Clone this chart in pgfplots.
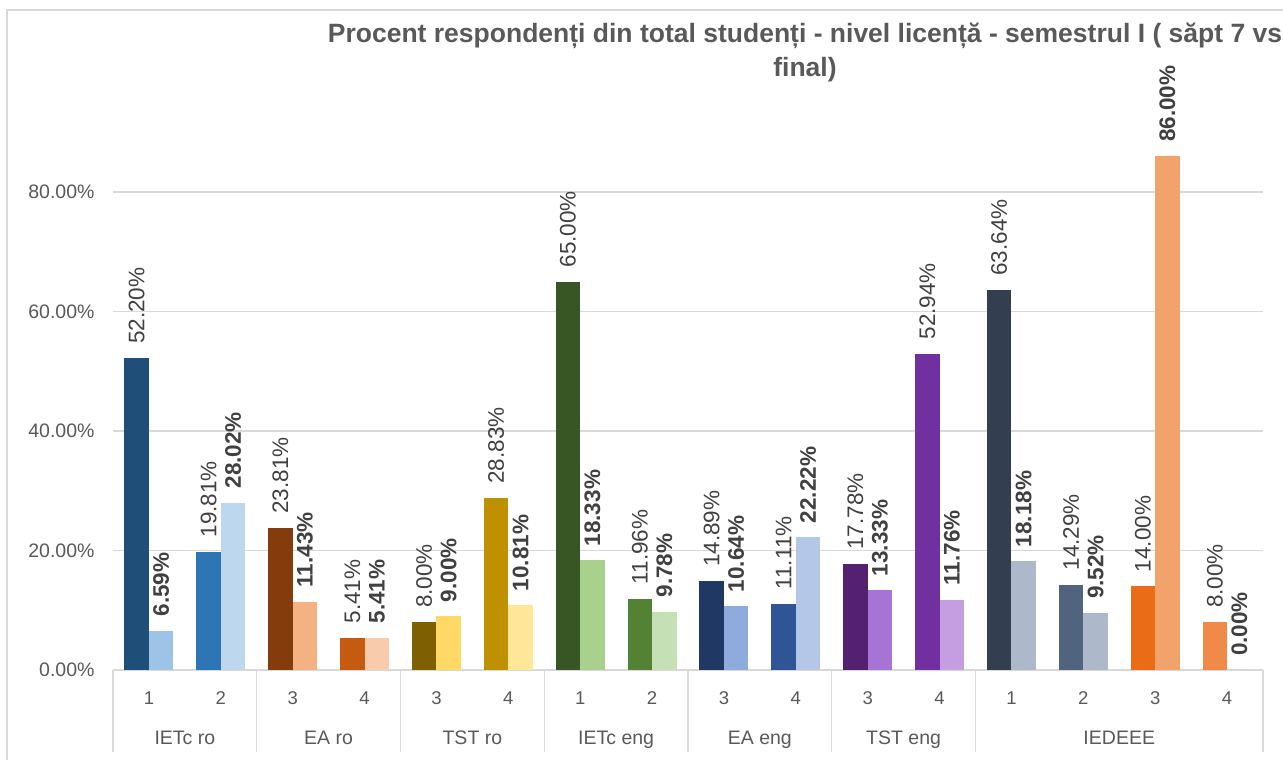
\documentclass[border=0pt]{standalone}
\usepackage{fontspec}
\setmainfont{Liberation Sans}
\newfontfamily\lab{Liberation Sans}
\usepackage{pgfplots}
\pgfplotsset{compat=1.18}

\definecolor{gridc}{HTML}{D9D9D9}
\definecolor{tickc}{HTML}{595959}
\definecolor{labc}{HTML}{404040}
\definecolor{c1a}{HTML}{1F4E79}\definecolor{c1b}{HTML}{9DC3E6}
\definecolor{c2a}{HTML}{2E75B6}\definecolor{c2b}{HTML}{BDD7EE}
\definecolor{c3a}{HTML}{843C0C}\definecolor{c3b}{HTML}{F4B183}
\definecolor{c4a}{HTML}{C55A11}\definecolor{c4b}{HTML}{F8CBAD}
\definecolor{c5a}{HTML}{7F6000}\definecolor{c5b}{HTML}{FFD966}
\definecolor{c6a}{HTML}{BF9000}\definecolor{c6b}{HTML}{FFE699}
\definecolor{c7a}{HTML}{375623}\definecolor{c7b}{HTML}{A9D18E}
\definecolor{c8a}{HTML}{548235}\definecolor{c8b}{HTML}{C5E0B4}
\definecolor{c9a}{HTML}{1F3864}\definecolor{c9b}{HTML}{8FAADC}
\definecolor{c10a}{HTML}{2F5597}\definecolor{c10b}{HTML}{B4C7E7}
\definecolor{c11a}{HTML}{532170}\definecolor{c11b}{HTML}{A674D4}
\definecolor{c12a}{HTML}{7030A0}\definecolor{c12b}{HTML}{C49EE0}
\definecolor{c13a}{HTML}{333F50}\definecolor{c13b}{HTML}{ADB9CA}
\definecolor{c14a}{HTML}{506480}\definecolor{c14b}{HTML}{ADB9CA}
\definecolor{c15a}{HTML}{EB6C17}\definecolor{c15b}{HTML}{F2A26B}
\definecolor{c16a}{HTML}{F08A48}\definecolor{c16b}{HTML}{F8CBAD}

% one category: x, week 7, final, colours
\newcommand\pair[5]{%
  \addplot[fill=#4, draw=none, bar shift=-12.25pt] coordinates {(#1,#2)};
  \addplot[fill=#5, draw=none, bar shift=12.25pt,
    every node near coord/.append style={font=\lab\bfseries\fontsize{22.5}{27}\selectfont}]
    coordinates {(#1,#3)};
}

\begin{document}
\begin{tikzpicture}[x=1pt,y=1pt]
\useasboundingbox (0,0) rectangle (1283,760);
\draw[gridc, line width=1.3pt] (7,0) -- (7,750) -- (1295,750);

\node[anchor=base, font=\bfseries\fontsize{26.5}{30}\selectfont, text=tickc] at (805,717)
  {Procent respondenți din total studenți - nivel licență - semestrul I ( săpt 7 vs};
\node[anchor=base, font=\bfseries\fontsize{26.5}{30}\selectfont, text=tickc] at (805,683) {final)};

\begin{axis}[
  at={(113pt,90pt)}, anchor=south west,
  scale only axis, width=1150pt, height=567.6pt,
  xmin=-0.5, xmax=15.5, ymin=0, ymax=95,
  ybar, bar width=24.5pt,
  axis lines*=left,
  y axis line style={draw=none},
  x axis line style={draw=gridc, line width=1.2pt},
  xtick={0,...,15},
  xticklabels={1,2,3,4,3,4,1,2,3,4,3,4,1,2,3,4},
  xticklabel style={anchor=base, yshift=-35pt, font=\fontsize{18.5}{22}\selectfont},
  major tick length=0pt,
  ytick={0,20,40,60,80},
  yticklabel={\pgfmathprintnumber[fixed,fixed zerofill,precision=2]{\tick}\%},
  yticklabel style={xshift=-15pt, font=\fontsize{19.5}{23}\selectfont},
  ymajorgrids, grid style={draw=gridc, line width=1.2pt},
  ticklabel style={text=tickc},
  /pgf/number format/assume math mode=true,
  extra x ticks={-0.5,1.5,3.5,5.5,7.5,9.5,11.5,15.5},
  extra x tick labels={},
  extra x tick style={major tick length=82pt, tick align=outside,
    tick style={draw=gridc, line width=1.2pt}},
  clip=false,
  nodes near coords={\pgfmathprintnumber[fixed,fixed zerofill,precision=2]{\pgfplotspointmeta}\%},
  every node near coord/.append style={font=\lab\fontsize{22.5}{27}\selectfont, text=labc,
    rotate=90, anchor=west, xshift=14pt, inner sep=0pt},
]
\pair{0}{52.20}{6.59}{c1a}{c1b}
\pair{1}{19.81}{28.02}{c2a}{c2b}
\pair{2}{23.81}{11.43}{c3a}{c3b}
\pair{3}{5.41}{5.41}{c4a}{c4b}
\pair{4}{8.00}{9.00}{c5a}{c5b}
\pair{5}{28.83}{10.81}{c6a}{c6b}
\pair{6}{65.00}{18.33}{c7a}{c7b}
\pair{7}{11.96}{9.78}{c8a}{c8b}
\pair{8}{14.89}{10.64}{c9a}{c9b}
\pair{9}{11.11}{22.22}{c10a}{c10b}
\pair{10}{17.78}{13.33}{c11a}{c11b}
\pair{11}{52.94}{11.76}{c12a}{c12b}
\pair{12}{63.64}{18.18}{c13a}{c13b}
\pair{13}{14.29}{9.52}{c14a}{c14b}
\pair{14}{14.00}{86.00}{c15a}{c15b}
\pair{15}{8.00}{0.00}{c16a}{c16b}

\path[font=\fontsize{19.5}{23}\selectfont, text=tickc, anchor=base]
  (axis cs:0.5,0)  node[yshift=-75pt] {IETc ro}
  (axis cs:2.5,0)  node[yshift=-75pt] {EA ro}
  (axis cs:4.5,0)  node[yshift=-75pt] {TST ro}
  (axis cs:6.5,0)  node[yshift=-75pt] {IETc eng}
  (axis cs:8.5,0)  node[yshift=-75pt] {EA eng}
  (axis cs:10.5,0) node[yshift=-75pt] {TST eng}
  (axis cs:13.5,0) node[yshift=-75pt] {IEDEEE};
\end{axis}
\end{tikzpicture}
\end{document}
